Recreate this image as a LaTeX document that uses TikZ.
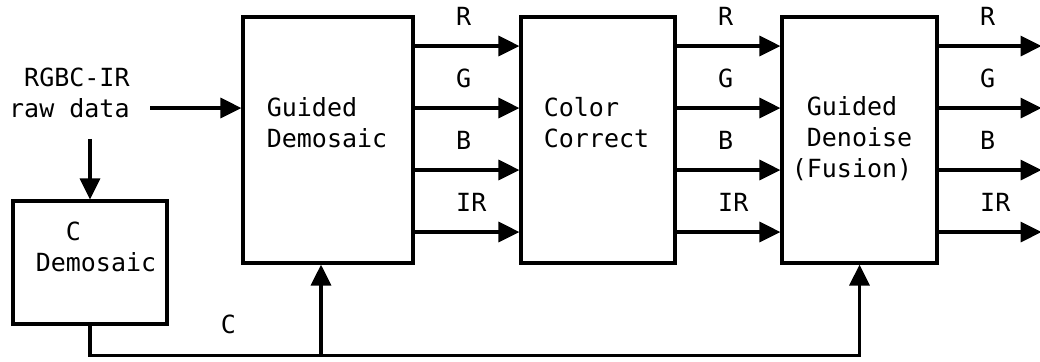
\documentclass[tikz,border=0pt]{standalone}
\usepackage{fontspec}
\setmainfont{DejaVu Sans Mono}
\usetikzlibrary{arrows.meta, positioning}

\begin{document}
\begin{tikzpicture}[
    x=0.5pt, y=-0.5pt,
    font=\fontsize{12.5}{15.5}\selectfont,
    box/.style={draw, line width=1.6pt, minimum height=123pt},
    txt/.style={align=left, inner sep=0pt},
    lbl/.style={inner sep=0pt, anchor=base west},
    arrow/.style={line width=1.6pt, -{Triangle[length=10.5pt, width=10pt]}}
]
\useasboundingbox (0,0) rectangle (1040,361);

% Nodes
\node[box, minimum width=85pt] (gdm) at (328,140) {};
\node[box, minimum width=77pt] (cc) at (598,140) {};
\node[box, minimum width=77.5pt] (gdn) at (859.5,140) {};
\node[box, minimum width=77pt, minimum height=61.5pt] (cdm) at (90,262.5) {};

\node[txt, anchor=west] (gdmtxt) at ([xshift=12.5pt, yshift=8.5pt]gdm.west) {Guided\\Demosaic};
\node[txt, anchor=west] (cctxt) at ([xshift=12pt, yshift=8.5pt]cc.west) {Color\\Correct};
\node[txt, anchor=west] (gdntxt) at ([xshift=5.5pt, yshift=0.5pt]gdn.west) {\hphantom{(}Guided\\\hphantom{(}Denoise\\(Fusion)};
\node[txt, anchor=west] (cdmtxt) at ([xshift=12pt, yshift=8pt]cdm.west) {\hphantom{De}C\\Demosaic};

\node[align=right, inner xsep=10pt, inner ysep=10.5pt, anchor=east] (raw) at (150,92.5) {RGBC-IR\\raw data};

\coordinate (gin) at ([yshift=16pt]gdm.west);
\coordinate (cbus) at ([yshift=-45.5pt]gdn.south);

% Connections
\draw[arrow] (raw.east |- gin) -- (gin);
\draw[arrow] (raw.south -| cdm.north) -- (cdm.north);

\foreach \o/\c in {47pt/R, 16pt/G, -15pt/B, -46pt/IR} {
  \draw[arrow] ([yshift=\o]gdm.east) -- ([yshift=\o]cc.west)
    node[lbl, pos=0, xshift=20pt, yshift=10.5pt] {\c};
  \draw[arrow] ([yshift=\o]cc.east) -- ([yshift=\o]gdn.west)
    node[lbl, pos=0, xshift=20pt, yshift=10.5pt] {\c};
  \draw[arrow] ([yshift=\o]gdn.east) -- ++(103,0)
    node[lbl, pos=0, xshift=20pt, yshift=10.5pt] {\c};
}

\draw[arrow] (cdm.south) |- node[inner sep=0pt, anchor=base, pos=0.59, yshift=11pt] {C} (cbus) -- (gdn.south);
\draw[arrow] ([xshift=-3.5pt]gdm.south |- cbus) -- ([xshift=-3.5pt]gdm.south);

\end{tikzpicture}
\end{document}
